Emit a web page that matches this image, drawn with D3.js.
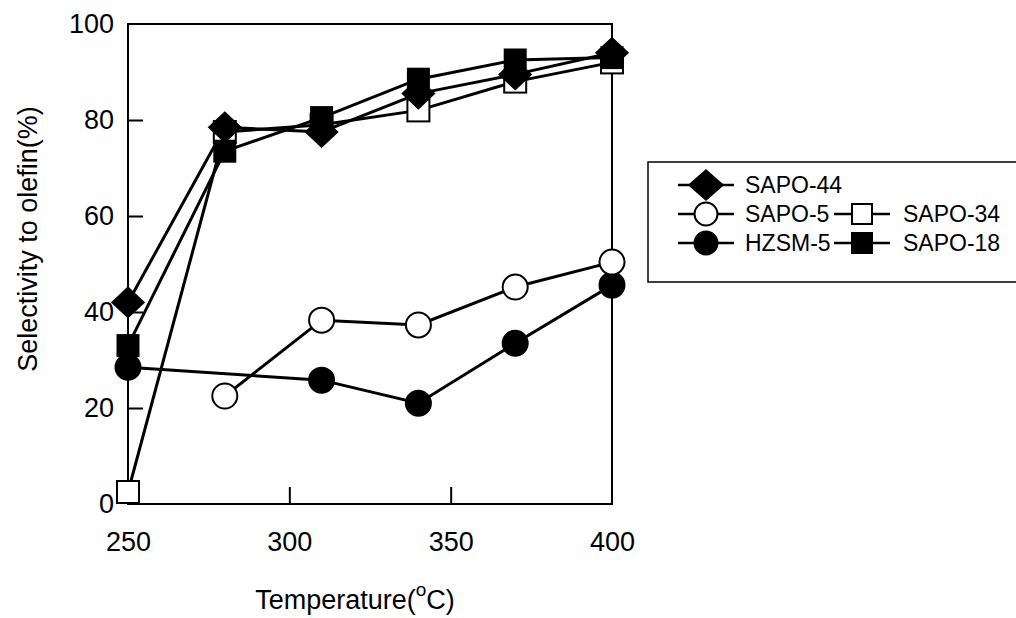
<!DOCTYPE html>
<html><head><meta charset="utf-8">
<script src="https://cdn.jsdelivr.net/npm/d3@7"></script>
<style>body{margin:0;background:#fff}svg{display:block}text{font-family:Arial,"Liberation Sans",sans-serif;fill:#000}</style>
</head><body>
<svg id="c" width="1016" height="618"></svg>
<script>
const temps = [250, 280, 310, 340, 370, 400];
const sapo44 = [42, 78.5, 77.5, 85.5, 89.5, 94];
const sapo34 = [2.5, 77.5, 79, 82, 88, 92];
const sapo18 = [33, 73.5, 80.5, 88.5, 92.5, 93];
const sapo5Temps = [280, 310, 340, 370, 400];
const sapo5 = [22.5, 38.3, 37.3, 45.2, 50.4];
const hzsmTemps = [250, 310, 340, 370, 400];
const hzsm5 = [28.5, 25.8, 21, 33.5, 45.6];
const xTicks = [250, 300, 350, 400];
const yTicks = [0, 20, 40, 60, 80, 100];

const svg = d3.select("#c");
const x = d3.scaleLinear().domain([250, 400]).range([128, 612]);
const y = d3.scaleLinear().domain([0, 100]).range([504, 24]);

// frame
svg.append("rect").attr("x", x(250)).attr("y", y(100))
  .attr("width", x(400) - x(250)).attr("height", y(0) - y(100))
  .attr("fill", "none").attr("stroke", "#000").attr("stroke-width", 2);

// axes with inward ticks
const xAxis = svg.append("g").attr("transform", `translate(0,${y(0)})`)
  .call(d3.axisBottom(x).tickValues(xTicks).tickSize(-17).tickPadding(28));
const yAxis = svg.append("g").attr("transform", `translate(${x(250)},0)`)
  .call(d3.axisLeft(y).tickValues(yTicks).tickSize(-15).tickPadding(14));
[xAxis, yAxis].forEach(g => {
  g.select(".domain").remove();
  g.selectAll(".tick line").attr("stroke", "#000").attr("stroke-width", 2);
  g.selectAll(".tick text").attr("font-size", 27).attr("fill", "#000")
    .style("font-family", "Arial, 'Liberation Sans', sans-serif");
});
xAxis.selectAll(".tick").filter(d => d === 250 || d === 400).select("line").remove();
yAxis.selectAll(".tick").filter(d => d === 0 || d === 100).select("line").remove();

// axis titles
svg.append("text").attr("transform", "translate(37,239) rotate(-90)")
  .attr("text-anchor", "middle").attr("font-size", 27).text("Selectivity to olefin(%)");
const xt = svg.append("text").attr("x", 355).attr("y", 609)
  .attr("text-anchor", "middle").attr("font-size", 27);
xt.append("tspan").text("Temperature(");
xt.append("tspan").attr("dy", -13).attr("font-size", 19).text("o");
xt.append("tspan").attr("dy", 13).text("C)");

const line = d3.line().x(d => x(d[0])).y(d => y(d[1]));
const zip = (a, b) => a.map((t, i) => [t, b[i]]);

function marker(g, type, cx, cy, s) {
  if (type === "diamond") {
    const w = s || 16, h = 15;
    g.append("path").attr("d", `M${cx},${cy - h}L${cx + w},${cy}L${cx},${cy + h}L${cx - w},${cy}Z`)
      .attr("fill", "#000").attr("stroke", "#000").attr("stroke-width", 1.5);
  } else if (type === "osq" || type === "fsq") {
    g.append("rect").attr("x", cx - s / 2).attr("y", cy - s / 2).attr("width", s).attr("height", s)
      .attr("fill", type === "fsq" ? "#000" : "#fff").attr("stroke", "#000").attr("stroke-width", 2);
  } else {
    g.append("circle").attr("cx", cx).attr("cy", cy).attr("r", s)
      .attr("fill", type === "fci" ? "#000" : "#fff").attr("stroke", "#000").attr("stroke-width", 2);
  }
}

const series = [
  {data: zip(hzsmTemps, hzsm5), type: "fci", s: 12.5},
  {data: zip(sapo5Temps, sapo5), type: "oci", s: 12.5},
  {data: zip(temps, sapo34), type: "osq", s: 22},
  {data: zip(temps, sapo18), type: "fsq", s: 21},
  {data: zip(temps, sapo44), type: "diamond", s: 16}
];
series.forEach(sr => {
  svg.append("path").datum(sr.data).attr("d", line)
    .attr("fill", "none").attr("stroke", "#000").attr("stroke-width", 3);
});
series.forEach(sr => {
  const g = svg.append("g");
  sr.data.forEach(d => marker(g, sr.type, x(d[0]), y(d[1]), sr.s));
});

// legend
const lg = svg.append("g");
lg.append("rect").attr("x", 648).attr("y", 162).attr("width", 420).attr("height", 120)
  .attr("fill", "none").attr("stroke", "#000").attr("stroke-width", 1.5);
const legendRows = [
  [{name: "SAPO-44", type: "diamond", s: 17, x0: 678, x1: 734, tx: 745}],
  [{name: "SAPO-5", type: "oci", s: 11.5, x0: 678, x1: 734, tx: 745},
   {name: "SAPO-34", type: "osq", s: 20, x0: 834, x1: 890, tx: 903}],
  [{name: "HZSM-5", type: "fci", s: 11.5, x0: 678, x1: 734, tx: 745},
   {name: "SAPO-18", type: "fsq", s: 20, x0: 834, x1: 890, tx: 903}]
];
const rowY = [185, 214, 243];
legendRows.forEach((row, i) => {
  row.forEach(it => {
    const cy = rowY[i];
    lg.append("line").attr("x1", it.x0).attr("x2", it.x1).attr("y1", cy).attr("y2", cy)
      .attr("stroke", "#000").attr("stroke-width", 2.5);
    marker(lg, it.type, (it.x0 + it.x1) / 2, cy, it.s);
    lg.append("text").attr("x", it.tx).attr("y", cy + 8).attr("font-size", 23).text(it.name);
  });
});
</script>
</body></html>
